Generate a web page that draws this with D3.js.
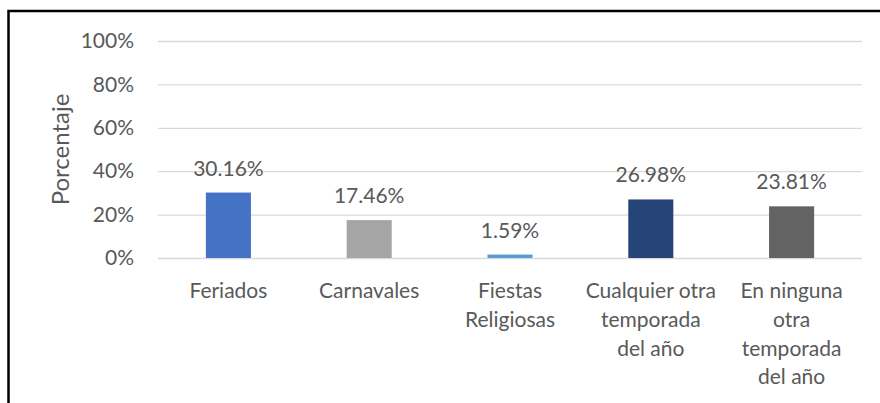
<!DOCTYPE html>
<html>
<head>
<meta charset="utf-8">
<script src="https://cdn.jsdelivr.net/npm/d3@7"></script>
<style>
  html, body { margin: 0; padding: 0; background: #fff; }
  svg { display: block; }
  text { font-family: Lato, "Open Sans", sans-serif; fill: #595959; }
</style>
</head>
<body>
<svg id="chart" width="880" height="403"></svg>
<script>
// categories (one entry per wrapped line of the label)
const categories = ["Feriados", "Carnavales", "Fiestas Religiosas", "Cualquier otra temporada del año", "En ninguna otra temporada del año"];
const categoryLines = [
  ["Feriados"],
  ["Carnavales"],
  ["Fiestas", "Religiosas"],
  ["Cualquier otra", "temporada", "del año"],
  ["En ninguna", "otra", "temporada", "del año"]
];
const values = [30.16, 17.46, 1.59, 26.98, 23.81];
const barColors = ["#4472C4", "#A5A5A5", "#5B9BD5", "#264478", "#636363"];
const yTicks = [0, 20, 40, 60, 80, 100];
const yTitle = "Porcentaje";

const margin = { top: 41, right: 18, bottom: 145, left: 158 };
const W = 880, H = 403;

const svg = d3.select('#chart');

// outer frame (only left and top edges are inside the picture)
svg.append('path')
  .attr('d', `M8.5,${H + 5} L8.5,11 L${W + 5},11`)
  .attr('fill', 'none')
  .attr('stroke', '#000')
  .attr('stroke-width', 2.5);

const xScale = d3.scaleBand()
  .domain(categories)
  .range([margin.left, W - margin.right])
  .paddingInner(0.68)
  .paddingOuter(0.34);

const yScale = d3.scaleLinear()
  .domain([0, 100])
  .range([H - margin.bottom, margin.top]);

// gridlines + tick labels
const yAxis = d3.axisLeft(yScale)
  .tickValues(yTicks)
  .tickSize(-(W - margin.right - margin.left))
  .tickPadding(24)
  .tickFormat(d => d + '%');

const gy = svg.append('g')
  .attr('transform', `translate(${margin.left},0)`)
  .call(yAxis);
gy.select('.domain').remove();
gy.selectAll('.tick line').attr('stroke', '#D9D9D9').attr('stroke-width', 1.3);
gy.selectAll('.tick text')
  .attr('font-size', 21)
  .attr('fill', '#595959')
  .style('font-family', 'Lato, "Open Sans", sans-serif');

// bars
svg.append('g').selectAll('rect')
  .data(values)
  .enter()
  .append('rect')
  .attr('x', (d, i) => xScale(categories[i]))
  .attr('y', d => yScale(d))
  .attr('width', xScale.bandwidth())
  .attr('height', d => yScale(0) - yScale(d))
  .attr('fill', (d, i) => barColors[i]);

// value labels
svg.append('g').selectAll('text')
  .data(values)
  .enter()
  .append('text')
  .attr('x', (d, i) => xScale(categories[i]) + xScale.bandwidth() / 2)
  .attr('y', d => yScale(d) - 17)
  .attr('text-anchor', 'middle')
  .attr('font-size', 21)
  .text(d => d.toFixed(2) + '%');

// category labels
const xl = svg.append('g').selectAll('text')
  .data(categoryLines)
  .enter()
  .append('text')
  .attr('x', (d, i) => xScale(categories[i]) + xScale.bandwidth() / 2)
  .attr('y', 298)
  .attr('text-anchor', 'middle')
  .attr('font-size', 21);
xl.selectAll('tspan')
  .data(d => d)
  .enter()
  .append('tspan')
  .attr('x', function () { return d3.select(this.parentNode).attr('x'); })
  .attr('dy', (d, i) => i === 0 ? 0 : 28.8)
  .text(d => d);

// y axis title
svg.append('text')
  .attr('transform', `translate(69,${(yScale(0) + yScale(100)) / 2}) rotate(-90)`)
  .attr('text-anchor', 'middle')
  .attr('font-size', 24)
  .text(yTitle);
</script>
</body>
</html>
